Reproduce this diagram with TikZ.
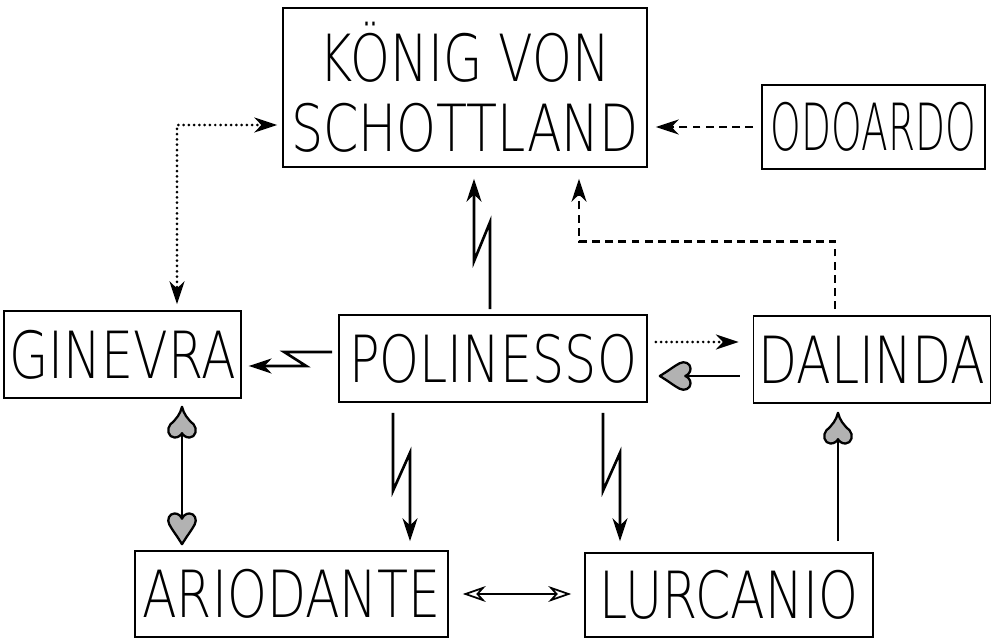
\documentclass[tikz,border=0pt]{standalone}
\usepackage{fontspec}
\setmainfont{DejaVu Sans ExtraLight}[FakeStretch=0.78]
\newfontfamily\odofont{DejaVu Sans ExtraLight}[FakeStretch=0.6]
\usetikzlibrary{arrows,arrows.meta}
% herz und pik als pfeilspitzen
\pgfarrowsdeclare{heart}{heart}
{\pgfarrowsleftextend{-18pt}\pgfarrowsrightextend{0pt}}
{
  \pgfsetlinewidth{1.3pt}
  \pgfsetdash{}{0pt}
  \pgfsetroundjoin
  \pgfsetfillcolor{gray!60}
  \pgfsetstrokecolor{black}
  \pgfpathmoveto{\pgfpoint{0pt}{0pt}}
  \pgfpathcurveto{\pgfpoint{-4.5pt}{2.7pt}}{\pgfpoint{-8.5pt}{5.8pt}}{\pgfpoint{-11.2pt}{7.2pt}}
  \pgfpathcurveto{\pgfpoint{-14pt}{8.8pt}}{\pgfpoint{-17.5pt}{7.2pt}}{\pgfpoint{-17.5pt}{4.2pt}}
  \pgfpathcurveto{\pgfpoint{-17.5pt}{2pt}}{\pgfpoint{-15.8pt}{0.5pt}}{\pgfpoint{-14.5pt}{0pt}}
  \pgfpathcurveto{\pgfpoint{-15.8pt}{-0.5pt}}{\pgfpoint{-17.5pt}{-2pt}}{\pgfpoint{-17.5pt}{-4.2pt}}
  \pgfpathcurveto{\pgfpoint{-17.5pt}{-7.2pt}}{\pgfpoint{-14pt}{-8.8pt}}{\pgfpoint{-11.2pt}{-7.2pt}}
  \pgfpathcurveto{\pgfpoint{-8.5pt}{-5.8pt}}{\pgfpoint{-4.5pt}{-2.7pt}}{\pgfpoint{0pt}{0pt}}
  \pgfpathclose
  \pgfusepathqfillstroke
}
\pgfarrowsdeclare{spade}{spade}
{\pgfarrowsleftextend{-18pt}\pgfarrowsrightextend{0pt}}
{
  \pgfsetlinewidth{1.3pt}
  \pgfsetdash{}{0pt}
  \pgfsetroundjoin
  \pgfsetfillcolor{gray!60}
  \pgfsetstrokecolor{black}
  \pgfpathmoveto{\pgfpoint{0pt}{0pt}}
  \pgfpathcurveto{\pgfpoint{-4pt}{0.9pt}}{\pgfpoint{-7pt}{3.2pt}}{\pgfpoint{-10pt}{6.6pt}}
  \pgfpathcurveto{\pgfpoint{-12.5pt}{9pt}}{\pgfpoint{-17.5pt}{7.8pt}}{\pgfpoint{-17.5pt}{4.2pt}}
  \pgfpathcurveto{\pgfpoint{-17.5pt}{2pt}}{\pgfpoint{-16pt}{0.4pt}}{\pgfpoint{-15pt}{0pt}}
  \pgfpathcurveto{\pgfpoint{-16pt}{-0.4pt}}{\pgfpoint{-17.5pt}{-2pt}}{\pgfpoint{-17.5pt}{-4.2pt}}
  \pgfpathcurveto{\pgfpoint{-17.5pt}{-7.8pt}}{\pgfpoint{-12.5pt}{-9pt}}{\pgfpoint{-10pt}{-6.6pt}}
  \pgfpathcurveto{\pgfpoint{-7pt}{-3.2pt}}{\pgfpoint{-4pt}{-0.9pt}}{\pgfpoint{0pt}{0pt}}
  \pgfpathclose
  \pgfusepathqfillstroke
}
\tikzset{
  >={Stealth[length=13pt,width=8.5pt,inset=4pt]},
  figur/.style = {rectangle, draw=black, line width=0.9pt, inner sep=0.1cm,
    align=center, font=\fontsize{37pt}{40pt}\selectfont},
  blitz/.style = {->, line width=1.5pt, line join=miter},% blitzpfeil
  punkt/.style = {->, line width=1.7pt, line cap=round, dash pattern=on 0pt off 3pt},
  strich/.style = {->, line width=1.5pt, dash pattern=on 4.5pt off 3pt},
  hohl/.style = {{Stealth[open,length=13pt,width=9pt,inset=4pt]}-{Stealth[open,length=13pt,width=9pt,inset=4pt]}, line width=1pt},
}
\begin{document}
\begin{tikzpicture}[thick]
  \useasboundingbox (0,0) rectangle (19.88,12.78);
  \node[figur, minimum width=7.28cm, minimum height=3.18cm] (koenig) at (9.30,11.03) {KÖNIG VON\\SCHOTTLAND};
  \node[figur, minimum width=4.46cm, minimum height=1.68cm] (odoardo) at (17.47,10.24) {\odofont ODOARDO};

  \node[figur, minimum width=4.70cm, minimum height=1.74cm] (ginevra) at (2.45,5.69) {GINEVRA};
  \node[figur, minimum width=6.16cm, minimum height=1.74cm] (polinesso) at (9.86,5.61) {POLINESSO};
  \node[figur, minimum width=4.72cm, minimum height=1.74cm] (dalinda) at (17.44,5.59) {DALINDA};

  \node[figur, minimum width=6.26cm, minimum height=1.72cm] (ariodante) at (5.83,0.90) {ARIODANTE};
  \node[figur, minimum width=5.76cm, minimum height=1.68cm] (lurcanio) at (14.58,0.88) {LURCANIO};

  %   koenig
  \draw[punkt, <->, shorten <=0.1cm, shorten >=0.12cm] ([yshift=-0.75cm]koenig.west) -| ([xshift=1.09cm]ginevra.north);
  \draw[strich, shorten <=0.16cm, shorten >=0.16cm] (odoardo.west) -- (odoardo.west -| koenig.east);
  \draw[strich, shorten <=0.12cm, shorten >=0.22cm] ([xshift=-0.74cm]dalinda.north) -- ++(0,1.48) -| ([xshift=2.28cm]koenig.south);
  %   polinesso
  \draw[blitz, shorten >=0.22cm] ([xshift=-0.06cm,yshift=0.1cm]polinesso.north) -- ++(0,1.74) -- ++(-0.32,-0.78) coordinate (z1) -- (z1 |- koenig.south);
  \draw[blitz, shorten >=0.14cm] ([xshift=-0.12cm,yshift=0.13cm]polinesso.west) -- ++(-0.96,0) -- ++(0.44,-0.28) coordinate (z2) -- (z2 -| ginevra.east);
  \draw[blitz, shorten >=0.18cm] ([xshift=-2cm,yshift=-0.2cm]polinesso.south) -- ++(0,-1.56) -- ++(0.34,0.76) coordinate (z3) -- (z3 |- ariodante.north);
  \draw[blitz, shorten >=0.22cm] ([xshift=2.2cm,yshift=-0.2cm]polinesso.south) -- ++(0,-1.56) -- ++(0.34,0.76) coordinate (z4) -- (z4 |- lurcanio.north);
  \draw[punkt, shorten <=0.16cm, shorten >=0.28cm] ([yshift=0.33cm]polinesso.east) -- ([yshift=0.33cm]polinesso.east -| dalinda.west);
  %   herz und pik
  \draw[-heart, line width=1.5pt, shorten <=0.26cm, shorten >=0.24cm] ([yshift=-0.33cm]dalinda.west) -- ([yshift=-0.33cm]dalinda.west -| polinesso.east);
  \draw[-spade, line width=1.5pt, shorten <=0.22cm, shorten >=0.18cm] ([xshift=2.18cm]lurcanio.north) -- ([xshift=2.18cm]lurcanio.north |- dalinda.south);
  \draw[spade-heart, line width=1.5pt, shorten <=0.16cm, shorten >=0.12cm] ([xshift=1.19cm]ginevra.south) -- ([xshift=1.19cm]ginevra.south |- ariodante.north);
  \draw[hohl, shorten <=0.28cm, shorten >=0.26cm] (ariodante.east) -- (ariodante.east -| lurcanio.west);
\end{tikzpicture}
\end{document}
